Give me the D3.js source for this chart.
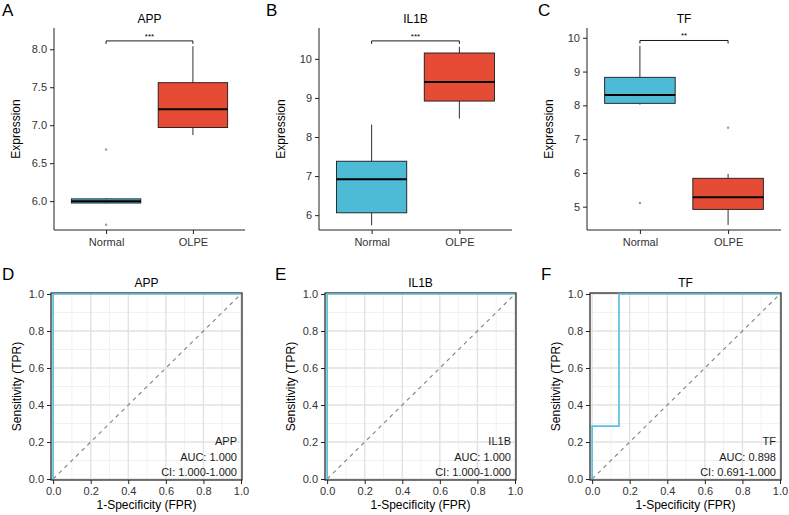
<!DOCTYPE html>
<html>
<head>
<meta charset="utf-8">
<script src="https://cdn.jsdelivr.net/npm/d3@7"></script>
<style>
  body { margin: 0; background: #fff; }
  svg { font-family: "Liberation Sans", Arial, sans-serif; }
</style>
</head>
<body>
<div id="chart"></div>
<script>
// ---------- data ----------
const genes = ["APP", "IL1B", "TF"];
const groups = ["Normal", "OLPE"];

// box stats: [lower whisker, Q1, median, Q3, upper whisker]
const appNormal = [5.97, 5.975, 6.00, 6.03, 6.04];
const appOlpe = [6.87, 6.97, 7.21, 7.56, 8.04];
const il1bNormal = [5.74, 6.06, 6.92, 7.38, 8.32];
const il1bOlpe = [8.47, 8.92, 9.41, 10.15, 10.31];
const tfNormal = [8.02, 8.06, 8.31, 8.83, 9.76];
const tfOlpe = [4.46, 4.92, 5.28, 5.84, 5.97];

// outliers
const appOutNormal = [6.68, 5.69];
const appOutOlpe = [];
const il1bOutNormal = [];
const il1bOutOlpe = [];
const tfOutNormal = [5.11];
const tfOutOlpe = [7.34];

const signifLabels = ["***", "***", "**"];
const bracketY = [8.11, 10.46, 9.92];
const yDomains = [[5.62, 8.28], [5.62, 10.79], [4.31, 10.29]];
const yTicks = [[6, 6.5, 7, 7.5, 8], [6, 7, 8, 9, 10], [5, 6, 7, 8, 9, 10]];
const yTickFormat = [".1f", "d", "d"];

// ROC curves
const appFpr = [0, 0, 1];
const appTpr = [0, 1, 1];
const il1bFpr = [0, 0, 1];
const il1bTpr = [0, 1, 1];
const tfFpr = [0, 0, 0.143, 0.143, 1];
const tfTpr = [0, 0.286, 0.286, 1, 1];
const aucValues = ["1.000", "1.000", "0.898"];
const ciValues = ["1.000-1.000", "1.000-1.000", "0.691-1.000"];
const rocTicks = [0, 0.2, 0.4, 0.6, 0.8, 1.0];

const groupColors = ["#4DBBD5", "#E64B35"];
const rocColor = "#5BC2DB";

// ---------- svg ----------
const svg = d3.select("#chart").append("svg")
  .attr("width", 789).attr("height", 515);

/*************** Box plots ***************/
const boxData = [
  [appNormal, appOlpe], [il1bNormal, il1bOlpe], [tfNormal, tfOlpe]
];
const outData = [
  [appOutNormal, appOutOlpe], [il1bOutNormal, il1bOutOlpe], [tfOutNormal, tfOutOlpe]
];
const boxPanels = [
  { letter: "A", lx: 2, left: 54, right: 245 },
  { letter: "B", lx: 266, left: 319, right: 512 },
  { letter: "C", lx: 538, left: 587, right: 781 }
];
const boxTop = 28, boxBottom = 230;

boxPanels.forEach(function (p, i) {
  const g = svg.append("g");
  const x = d3.scalePoint().domain(groups).range([p.left, p.right]).padding(0.6);
  const step = x.step();
  const boxW = step * 0.8;
  const y = d3.scaleLinear().domain(yDomains[i]).range([boxBottom, boxTop]);

  // panel letter
  g.append("text").attr("x", p.lx).attr("y", 16)
    .style("font-size", "17px").text(p.letter);
  // title
  g.append("text").attr("x", (p.left + p.right) / 2).attr("y", 23)
    .attr("text-anchor", "middle").style("font-size", "12px").text(genes[i]);

  // boxes
  groups.forEach(function (grp, j) {
    const s = boxData[i][j];
    const cx = x(grp);
    g.append("line").attr("x1", cx).attr("x2", cx)
      .attr("y1", y(s[0])).attr("y2", y(s[1]))
      .attr("stroke", "#1a1a1a").attr("stroke-width", 0.9);
    g.append("line").attr("x1", cx).attr("x2", cx)
      .attr("y1", y(s[3])).attr("y2", y(s[4]))
      .attr("stroke", "#1a1a1a").attr("stroke-width", 0.9);
    g.append("rect").attr("x", cx - boxW / 2).attr("width", boxW)
      .attr("y", y(s[3])).attr("height", Math.max(1, y(s[1]) - y(s[3])))
      .attr("fill", groupColors[j]).attr("stroke", "#1a1a1a").attr("stroke-width", 0.9);
    g.append("line").attr("x1", cx - boxW / 2).attr("x2", cx + boxW / 2)
      .attr("y1", y(s[2])).attr("y2", y(s[2]))
      .attr("stroke", "#000").attr("stroke-width", 2);
    g.selectAll(null).data(outData[i][j]).enter().append("circle")
      .attr("cx", cx).attr("cy", function (d) { return y(d); })
      .attr("r", 1.2).attr("fill", "#999");
  });

  // significance bracket
  const by = y(bracketY[i]);
  const x1 = x(groups[0]), x2 = x(groups[1]);
  g.append("path")
    .attr("d", "M" + x1 + "," + (by + 3) + "V" + by + "H" + x2 + "V" + (by + 3))
    .attr("fill", "none").attr("stroke", "#000").attr("stroke-width", 0.9);
  g.append("text").attr("x", (x1 + x2) / 2).attr("y", by - 2)
    .attr("text-anchor", "middle").style("font-size", "8px").text(signifLabels[i]);

  // axes
  const yAxis = d3.axisLeft(y).tickValues(yTicks[i]).tickFormat(d3.format(yTickFormat[i])).tickSize(4).tickPadding(3);
  const ya = g.append("g").attr("transform", "translate(" + p.left + ",0)").call(yAxis);
  ya.select(".domain").attr("d", "M0," + boxTop + "V" + boxBottom);
  const xa = g.append("g").attr("transform", "translate(0," + boxBottom + ")")
    .call(d3.axisBottom(x).tickSize(4).tickPadding(4));
  xa.select(".domain").attr("d", "M" + p.left + ",0H" + p.right);
  [ya, xa].forEach(function (a) {
    a.selectAll("text").style("font-size", "11px").attr("fill", "#333").style("font-family", "Liberation Sans, Arial, sans-serif");
    a.selectAll("line").attr("stroke", "#222");
    a.select(".domain").attr("stroke", "#222");
  });

  g.append("text")
    .attr("transform", "translate(" + (p.left - 34) + "," + ((boxTop + boxBottom) / 2) + ")rotate(-90)")
    .attr("text-anchor", "middle").style("font-size", "12px").text("Expression");
});

/*************** ROC curves ***************/
const rocData = [[appFpr, appTpr], [il1bFpr, il1bTpr], [tfFpr, tfTpr]];
const rocPanels = [
  { letter: "D", lx: 2, left: 52, right: 241 },
  { letter: "E", lx: 275, left: 326, right: 515 },
  { letter: "F", lx: 541, left: 591, right: 780 }
];
const rocTop = 294, rocBottom = 479;

rocPanels.forEach(function (p, i) {
  const g = svg.append("g");
  const x = d3.scaleLinear().domain([-0.006, 1]).range([p.left, p.right]);
  const y = d3.scaleLinear().domain([0, 1]).range([rocBottom, rocTop]);

  g.append("text").attr("x", p.lx).attr("y", 280)
    .style("font-size", "17px").text(p.letter);
  g.append("text").attr("x", (p.left + p.right) / 2).attr("y", 287)
    .attr("text-anchor", "middle").style("font-size", "12px").text(genes[i]);

  // grid
  const minor = d3.range(0.1, 1, 0.2);
  g.selectAll(null).data(minor).enter().append("line")
    .attr("x1", function (d) { return x(d); }).attr("x2", function (d) { return x(d); })
    .attr("y1", rocTop).attr("y2", rocBottom)
    .attr("stroke", "#ededed").attr("stroke-width", 0.8);
  g.selectAll(null).data(minor).enter().append("line")
    .attr("y1", function (d) { return y(d); }).attr("y2", function (d) { return y(d); })
    .attr("x1", p.left).attr("x2", p.right)
    .attr("stroke", "#ededed").attr("stroke-width", 0.8);
  g.selectAll(null).data(rocTicks).enter().append("line")
    .attr("x1", function (d) { return x(d); }).attr("x2", function (d) { return x(d); })
    .attr("y1", rocTop).attr("y2", rocBottom)
    .attr("stroke", "#e2e2e2").attr("stroke-width", 1.4);
  g.selectAll(null).data(rocTicks).enter().append("line")
    .attr("y1", function (d) { return y(d); }).attr("y2", function (d) { return y(d); })
    .attr("x1", p.left).attr("x2", p.right)
    .attr("stroke", "#e2e2e2").attr("stroke-width", 1.4);

  // diagonal
  g.append("line").attr("x1", x(0)).attr("y1", y(0)).attr("x2", x(1)).attr("y2", y(1))
    .attr("stroke", "#808080").attr("stroke-width", 1.1).attr("stroke-dasharray", "4,4");

  // border (drawn just outside so the curve along the edges stays visible)
  g.append("rect").attr("x", p.left - 1).attr("y", rocTop - 1)
    .attr("width", p.right - p.left + 2).attr("height", rocBottom - rocTop + 2)
    .attr("fill", "none").attr("stroke", "#1a1a1a").attr("stroke-width", 1.2);

  // curve
  const pts = rocData[i][0].map(function (f, k) { return [f, rocData[i][1][k]]; });
  g.append("path").datum(pts)
    .attr("d", d3.line().x(function (d) { return x(d[0]); }).y(function (d) { return y(d[1]); }))
    .attr("fill", "none").attr("stroke", rocColor).attr("stroke-width", 1.7);

  // annotations
  const ann = [genes[i], "AUC: " + aucValues[i], "CI: " + ciValues[i]];
  g.selectAll(null).data(ann).enter().append("text")
    .attr("x", p.right - 4).attr("y", function (d, k) { return 445 + k * 15.5; })
    .attr("text-anchor", "end").style("font-size", "11px").attr("fill", "#1a1a1a")
    .text(function (d) { return d; });

  // axes
  const xa = g.append("g").attr("transform", "translate(0," + (rocBottom + 1) + ")")
    .call(d3.axisBottom(x).tickValues(rocTicks).tickFormat(d3.format(".1f")).tickSize(4).tickPadding(3));
  const ya = g.append("g").attr("transform", "translate(" + (p.left - 1) + ",0)")
    .call(d3.axisLeft(y).tickValues(rocTicks).tickFormat(d3.format(".1f")).tickSize(4).tickPadding(3));
  [xa, ya].forEach(function (a) {
    a.select(".domain").remove();
    a.selectAll("text").style("font-size", "11px").attr("fill", "#333").style("font-family", "Liberation Sans, Arial, sans-serif");
    a.selectAll("line").attr("stroke", "#222");
  });

  g.append("text").attr("x", (p.left + p.right) / 2).attr("y", 509)
    .attr("text-anchor", "middle").style("font-size", "12px").text("1-Specificity (FPR)");
  g.append("text")
    .attr("transform", "translate(" + (p.left - 31) + "," + ((rocTop + rocBottom) / 2) + ")rotate(-90)")
    .attr("text-anchor", "middle").style("font-size", "12px").text("Sensitivity (TPR)");
});
</script>
</body>
</html>
